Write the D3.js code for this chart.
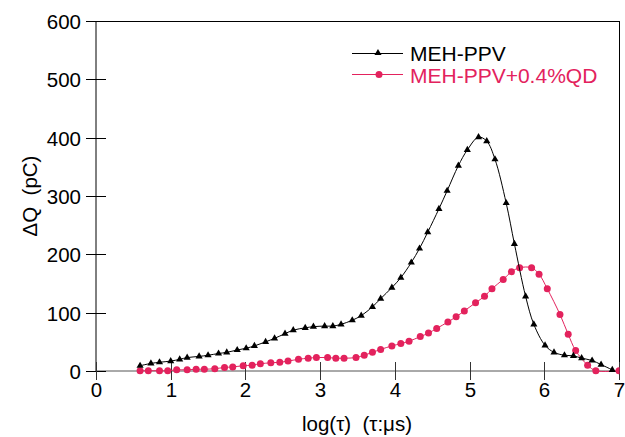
<!DOCTYPE html>
<html>
<head>
<meta charset="utf-8">
<script src="https://cdn.jsdelivr.net/npm/d3@7"></script>
<style>
  body { margin: 0; background: #fff; }
  svg text { font-family: "Liberation Sans", Arial, sans-serif; }
</style>
</head>
<body>
<svg id="chart" width="625" height="437"></svg>
<script>
// MEH-PPV (triangles)
const pureLog = [0.59, 0.735, 0.85, 1.00, 1.12, 1.22, 1.38, 1.50, 1.64, 1.75, 1.89, 2.01, 2.12, 2.27, 2.39, 2.53, 2.64, 2.80, 2.91, 3.06, 3.17, 3.28, 3.43, 3.55, 3.70, 3.81, 3.96, 4.08, 4.22, 4.33, 4.44, 4.59, 4.70, 4.85, 4.97, 5.12, 5.23, 5.34, 5.49, 5.60, 5.75, 5.86, 6.01, 6.13, 6.27, 6.39, 6.50, 6.64, 6.76, 6.91];
const pureQ = [9, 13, 15, 17, 20, 23, 25, 27, 30, 32, 36, 39, 43, 50, 56, 64, 70, 74, 76, 77, 77, 80, 87, 95, 110, 124, 143, 160, 186, 210, 238, 278, 309, 352, 379, 401, 394, 363, 288, 218, 128, 80, 44, 32, 27, 26, 22, 18, 11, 2];

// MEH-PPV+0.4%QD (circles)
const qdLog = [0.59, 0.70, 0.85, 0.96, 1.08, 1.22, 1.34, 1.45, 1.59, 1.72, 1.83, 1.97, 2.09, 2.20, 2.34, 2.46, 2.57, 2.71, 2.84, 2.95, 3.10, 3.21, 3.32, 3.48, 3.59, 3.70, 3.81, 3.96, 4.08, 4.19, 4.34, 4.45, 4.56, 4.71, 4.82, 4.93, 5.08, 5.20, 5.30, 5.45, 5.56, 5.67, 5.83, 5.93, 6.04, 6.21, 6.32, 6.42, 6.58, 6.69, 7.00];
const qdQ = [0.5, 0.5, 0.5, 0.5, 2, 2, 3, 3, 4, 6, 7, 9, 10, 12.5, 14, 15, 17, 20, 22, 23, 23, 22, 22, 23, 27, 32, 37, 43, 47, 51, 59, 65, 73, 84, 93, 103, 117, 128, 141, 157, 170, 177, 177, 166, 141, 97, 63, 35, 10, 0.5, 0.5];

const xTicks = [0, 1, 2, 3, 4, 5, 6, 7];
const yTicks = [0, 100, 200, 300, 400, 500, 600];
const seriesNames = ["MEH-PPV", "MEH-PPV+0.4%QD"];

const PINK = "#e3225d";
const svg = d3.select("#chart");
const plotL = 96, plotR = 619, plotT = 21, plotB = 371;

const x = d3.scaleLinear().domain([0, 7]).range([plotL, plotR]);
const y = d3.scaleLinear().domain([0, 600]).range([plotB, plotT]);

svg.append("defs").append("clipPath").attr("id", "clip")
  .append("rect").attr("x", 0).attr("y", 0).attr("width", plotR + 0.5).attr("height", 437);

// frame
const frame = svg.append("g").attr("stroke", "#000").attr("stroke-width", 1).attr("fill", "none");
frame.append("line").attr("x1", plotL).attr("x2", plotL).attr("y1", plotT).attr("y2", plotB);
frame.append("line").attr("x1", plotL).attr("x2", plotR).attr("y1", plotT + 0.5).attr("y2", plotT + 0.5);
frame.append("line").attr("x1", plotR + 0.5).attr("x2", plotR + 0.5).attr("y1", plotT).attr("y2", plotB);
frame.append("line").attr("x1", plotL).attr("x2", plotR).attr("y1", plotB).attr("y2", plotB).attr("stroke", "#555");

// y ticks
yTicks.forEach((v) => {
  const yy = Math.round(y(v)) + 0.5;
  frame.append("line").attr("x1", plotL - 10).attr("x2", plotL + 10).attr("y1", yy).attr("y2", yy);
  svg.append("text").attr("x", 81).attr("y", yy).attr("dy", "0.35em")
    .attr("text-anchor", "end").style("font-size", "20.5px").text(v);
});

// x ticks
xTicks.forEach((v) => {
  const xx = Math.round(x(v)) + 0.5;
  frame.append("line").attr("x1", xx).attr("x2", xx).attr("y1", plotB - 9).attr("y2", plotB + 9)
    .attr("stroke", "#333");
  svg.append("text").attr("x", xx).attr("y", 397).attr("text-anchor", "middle")
    .style("font-size", "20.5px").text(v);
});

// axis titles
svg.append("text").attr("x", 357).attr("y", 431).attr("text-anchor", "middle")
  .style("font-size", "20.5px").attr("xml:space", "preserve").text("log(\u03c4)  (\u03c4:\u03bcs)");
svg.append("text").attr("transform", "translate(37,196) rotate(-90)").attr("text-anchor", "middle")
  .style("font-size", "20.5px").attr("xml:space", "preserve").text("\u0394Q  (pC)");

const line = d3.line()
  .x((d) => x(d[0]))
  .y((d) => y(d[1]))
  .curve(d3.curveCatmullRom.alpha(0.5));

const plot = svg.append("g").attr("clip-path", "url(#clip)");

const qdData = qdLog.map((v, i) => [v, qdQ[i]]);
const pureData = pureLog.map((v, i) => [v, pureQ[i]]);

plot.append("path").datum(qdData).attr("d", line)
  .attr("fill", "none").attr("stroke", PINK).attr("stroke-width", 1);
plot.selectAll(".dot").data(qdData).enter().append("circle")
  .attr("cx", (d) => x(d[0])).attr("cy", (d) => y(d[1])).attr("r", 3.5).attr("fill", PINK);

plot.append("path").datum(pureData).attr("d", line)
  .attr("fill", "none").attr("stroke", "#000").attr("stroke-width", 1);
const tri = d3.symbol().type(d3.symbolTriangle).size(22);
plot.selectAll(".tri").data(pureData).enter().append("path")
  .attr("d", tri).attr("transform", (d) => "translate(" + x(d[0]) + "," + y(d[1]) + ")")
  .attr("fill", "#000");

// legend
const legend = svg.append("g");
legend.append("line").attr("x1", 352).attr("x2", 403).attr("y1", 53.5).attr("y2", 53.5)
  .attr("stroke", "#000");
legend.append("path").attr("d", tri).attr("transform", "translate(378,53)").attr("fill", "#000");
legend.append("text").attr("x", 410).attr("y", 60.5).style("font-size", "21px").text(seriesNames[0]);
legend.append("line").attr("x1", 352).attr("x2", 403).attr("y1", 74.5).attr("y2", 74.5)
  .attr("stroke", PINK);
legend.append("circle").attr("cx", 379).attr("cy", 74.5).attr("r", 3.5).attr("fill", PINK);
legend.append("text").attr("x", 410).attr("y", 82.5).style("font-size", "21px").attr("fill", PINK)
  .text(seriesNames[1]);
</script>
</body>
</html>
